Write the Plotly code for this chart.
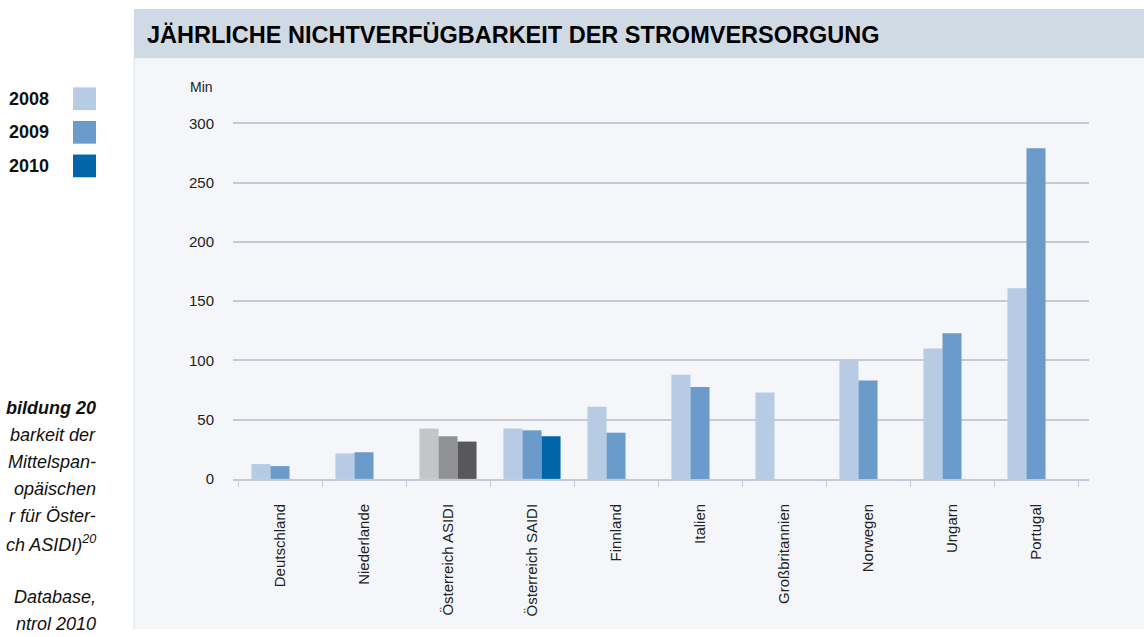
import plotly.graph_objects as go

W, H = 1144, 637

categories = ["Deutschland", "Niederlande", "Österreich ASIDI", "Österreich SAIDI",
              "Finnland", "Italien", "Großbritannien", "Norwegen", "Ungarn", "Portugal"]
v2008 = [12.5, 21.5, 42.5, 42.5, 61, 88, 73, 100, 110, 161]
v2009 = [10.8, 22.5, 36, 41, 39, 77.5, None, 83, 123, 279]
v2010 = [None, None, 31.5, 36, None, None, None, None, None, None]

years = ["2008", "2009", "2010"]
year_colors = ["#b7cbe4", "#6a9bcb", "#0066a9"]
asidi_colors = ["#c4c5c7", "#919294", "#58585a"]
asidi_name = "Österreich ASIDI"
y_ticks = [0, 50, 100, 150, 200, 250, 300]

title_text = "JÄHRLICHE NICHTVERFÜGBARKEIT DER STROMVERSORGUNG"
unit_text = "Min"
caption_lines = ["<b>bildung 20</b>", "barkeit der", "Mittelspan-", "opäischen",
                 "r für Öster-", "ch ASIDI)<sup>20</sup>", "", "Database,", "ntrol 2010"]

def px_x(p):
    return p / W

def px_y(p):
    return 1 - p / H

fig = go.Figure()
for vals, name, col, gcol in zip([v2008, v2009, v2010], years, year_colors, asidi_colors):
    colors = [gcol if c == asidi_name else col for c in categories]
    fig.add_trace(go.Bar(x=categories, y=vals, name=name, marker=dict(color=colors, line=dict(width=0)),
                         showlegend=False))

shapes = [
    dict(type="rect", xref="paper", yref="paper", x0=px_x(134), x1=1.0, y0=0, y1=px_y(59),
         fillcolor="#f4f6fa", line=dict(width=0), layer="below"),
    dict(type="rect", xref="paper", yref="paper", x0=px_x(134), x1=1.0, y0=px_y(59), y1=px_y(9),
         fillcolor="#d0dae4", line=dict(width=0), layer="below"),
    dict(type="line", xref="paper", yref="paper", x0=px_x(134), x1=px_x(134), y0=0, y1=px_y(59),
         line=dict(color="#dbe3ee", width=1), layer="below"),
]
annotations = [
    dict(text="<b>" + title_text + "</b>", xref="paper", yref="paper", x=px_x(145), y=px_y(35),
         xanchor="left", yanchor="middle", showarrow=False,
         font=dict(family="Liberation Sans, Arial", size=23.5, color="#000000")),
    dict(text=unit_text, xref="paper", yref="paper", x=px_x(188), y=px_y(88),
         xanchor="left", yanchor="middle", showarrow=False,
         font=dict(family="Liberation Sans, Arial", size=14, color="#222222")),
]

for i, (yr, col) in enumerate(zip(years, year_colors)):
    yc = 100 + 34 * i
    shapes.append(dict(type="rect", xref="paper", yref="paper", x0=px_x(73), x1=px_x(96),
                       y0=px_y(yc + 11.5), y1=px_y(yc - 11.5), fillcolor=col, line=dict(width=0)))
    annotations.append(dict(text="<b>" + yr + "</b>", xref="paper", yref="paper", x=px_x(7), y=px_y(yc),
                            xanchor="left", yanchor="middle", showarrow=False,
                            font=dict(family="Liberation Sans, Arial", size=18, color="#111111")))

for i, line in enumerate(caption_lines):
    if not line:
        continue
    yc = 413 + 27.4 * i
    annotations.append(dict(text="<i>" + line + "</i>", xref="paper", yref="paper", x=px_x(98), y=px_y(yc),
                            xanchor="right", yanchor="middle", showarrow=False,
                            font=dict(family="Liberation Sans, Arial", size=18, color="#111111")))

fig.update_layout(
    width=W, height=H,
    margin=dict(l=0, r=0, t=0, b=0),
    paper_bgcolor="#ffffff",
    plot_bgcolor="rgba(0,0,0,0)",
    barmode="group",
    bargap=0.32,
    bargroupgap=0,
    shapes=shapes,
    annotations=annotations,
    xaxis=dict(
        domain=[px_x(233), px_x(1089)],
        range=[-0.5 - 5 / 84, 9.5 + 11 / 84],
        type="category",
        tickangle=-90,
        tickson="boundaries",
        ticks="outside",
        ticklen=6,
        tickwidth=1,
        tickcolor="#c8cdd9",
        showline=True,
        linecolor="#c4c9d6",
        linewidth=2,
        showgrid=False,
        ticklabelstandoff=17,
        tickfont=dict(family="Liberation Sans, Arial", size=15, color="#222222"),
    ),
    yaxis=dict(
        domain=[px_y(485), px_y(113)],
        range=[0, 310],
        tickvals=y_ticks,
        showgrid=True,
        gridcolor="#c5cad6",
        gridwidth=1.5,
        zeroline=False,
        showline=False,
        ticks="",
        ticklabelstandoff=18,
        tickfont=dict(family="Liberation Sans, Arial", size=15, color="#222222"),
    ),
)

fig.write_html("out.html", config={"displayModeBar": False},
               post_script="document.body.style.margin='0';document.body.style.overflow='hidden';")
